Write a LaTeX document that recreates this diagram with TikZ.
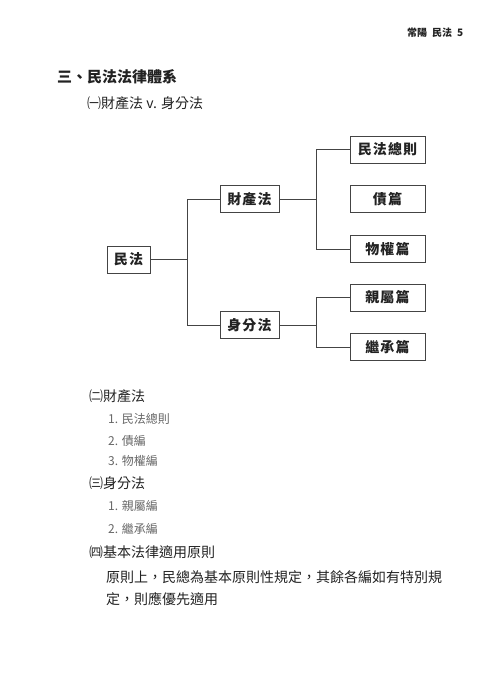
\documentclass[tikz,border=0pt]{standalone}
\usepackage{fontspec}
\newfontfamily\cjk[Script=CJK,Language=Chinese Traditional]{Noto Sans CJK TC}
\definecolor{ink}{HTML}{222222}
\definecolor{linec}{HTML}{444444}
\definecolor{soft}{HTML}{666666}
\newcommand\fs[1]{\fontsize{#1}{#1}\selectfont}
\begin{document}
\begin{tikzpicture}[x=1pt,y=-1pt,font=\cjk,text=ink,
    box/.style={draw=linec,line width=.8pt,inner sep=0pt,minimum height=27pt,font=\cjk\bfseries\fs{14}\addfontfeature{LetterSpace=8}},
    leaf/.style={box,minimum width=75pt},
    mid/.style={box,minimum width=59pt},
    txt/.style={anchor=west,inner sep=0pt},
    sub/.style={txt,text=soft,font=\cjk\fs{12}},
    link/.style={draw=linec,line width=.8pt}]
\useasboundingbox (0,0) rectangle (492,700);

% page head and titles
\node[txt,font=\cjk\bfseries\fs{10}] (head) at (407,33) {常陽\enspace 民法\enspace 5};
\node[txt,font=\cjk\bfseries\fs{15}] (title) at (57,77) {三、民法法律體系};
\node[txt,font=\cjk\fs{14}] (part1) at (87,103) {㈠財產法 v. 身分法};

% tree
\node[box,minimum width=43pt] (minfa) at (128.5,259.5) {民法};
\node[mid] (caichan) at (249.5,199) {財產法};
\node[mid] (shenfen) at (249.5,325) {身分法};
\node[leaf] (zongze) at (387.5,149.5) {民法總則};
\node[leaf] (zhai) at (387.5,199) {債篇};
\node[leaf] (wuquan) at (387.5,249) {物權篇};
\node[leaf] (qinshu) at (387.5,297.5) {親屬篇};
\node[leaf] (jicheng) at (387.5,347) {繼承篇};

\draw[link] (minfa.east) -- +(37,0) coordinate (j1);
\draw[link] (caichan.west) -| (j1);
\draw[link] (shenfen.west) -| (j1);
\draw[link] (caichan.east) -- +(37,0) coordinate (j2);
\draw[link] (zongze.west) -| (j2);
\draw[link] (wuquan.west) -| (j2);
\draw[link] (shenfen.east) -- +(37,0) coordinate (j3);
\draw[link] (qinshu.west) -| (j3);
\draw[link] (jicheng.west) -| (j3);

% lists
\node[txt,font=\cjk\fs{14}] (part2) at (89,396) {㈡財產法};
\node[sub] (p2a) at (108,419) {1. 民法總則};
\node[sub] (p2b) at (108,441) {2. 債編};
\node[sub] (p2c) at (108,461) {3. 物權編};
\node[txt,font=\cjk\fs{14}] (part3) at (89,483) {㈢身分法};
\node[sub] (p3a) at (108,506) {1. 親屬編};
\node[sub] (p3b) at (108,529) {2. 繼承編};
\node[txt,font=\cjk\fs{14}] (part4) at (89,552) {㈣基本法律適用原則};
\node[txt,font=\cjk\fs{14}] (line1) at (106,577) {原則上，民總為基本原則性規定，其餘各編如有特別規};
\node[txt,font=\cjk\fs{14}] (line2) at (106,599) {定，則應優先適用};
\end{tikzpicture}
\end{document}
